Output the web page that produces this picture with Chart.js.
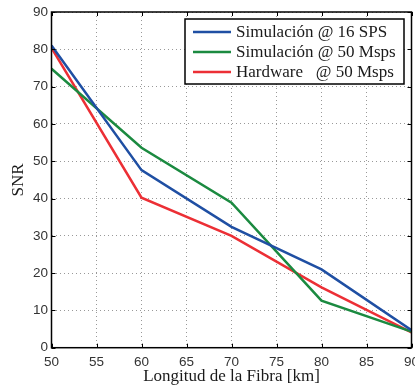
<!DOCTYPE html>
<html>
<head>
<meta charset="utf-8">
<script src="https://cdn.jsdelivr.net/npm/chart.js@4"></script>
<style>
html,body{margin:0;padding:0;background:#fff;}
#wrap{position:relative;width:415px;height:392px;}
</style>
</head>
<body>
<div id="wrap"><canvas id="c" width="415" height="392"></canvas></div>
<script>
const xValues = [50, 60, 70, 80, 90];
const sim16 = [81, 47.6, 32.4, 21, 4.7];
const sim50 = [74.8, 53.6, 38.9, 12.6, 4.3];
const hw50 = [80.4, 40.2, 30, 16.2, 4.1];
const seriesLabels = ['Simulación @ 16 SPS', 'Simulación @ 50 Msps', 'Hardware   @ 50 Msps'];
const seriesColors = ['#1f4fa3', '#1b8a40', '#ec2f35'];
const xTitle = 'Longitud de la Fibra [km]';
const yTitle = 'SNR';

const toPts = arr => arr.map((v, i) => ({x: xValues[i], y: v}));
const dataArrays = [sim16, sim50, hw50];

const frame = {
  id: 'frame',
  afterDatasetsDraw(chart) {
    const {ctx, chartArea: a, scales} = chart;
    ctx.save();
    ctx.strokeStyle = '#000';
    ctx.lineWidth = 1;
    ctx.beginPath();
    for (let v = 50; v <= 90; v += 5) {
      const x = Math.round(scales.x.getPixelForValue(v)) + 0.5;
      ctx.moveTo(x, a.top); ctx.lineTo(x, a.top + 4);
      ctx.moveTo(x, a.bottom); ctx.lineTo(x, a.bottom - 4);
    }
    for (let v = 0; v <= 90; v += 10) {
      const y = Math.round(scales.y.getPixelForValue(v)) + 0.5;
      ctx.moveTo(a.right, y); ctx.lineTo(a.right - 4, y);
      ctx.moveTo(a.left, y); ctx.lineTo(a.left + 4, y);
    }
    ctx.stroke();
    ctx.lineWidth = 1.5;
    ctx.strokeRect(a.left, a.top, a.right - a.left, a.bottom - a.top);
    // legend
    const bx = 185, by = 19, bw = 219, bh = 65;
    ctx.fillStyle = '#fff';
    ctx.fillRect(bx, by, bw, bh);
    ctx.lineWidth = 1.5;
    ctx.strokeStyle = '#000';
    ctx.strokeRect(bx, by, bw, bh);
    ctx.font = '17px "Liberation Serif", "Times New Roman", serif';
    ctx.textBaseline = 'middle';
    ctx.textAlign = 'left';
    for (let i = 0; i < 3; i++) {
      const y = by + 13 + i * 20;
      ctx.strokeStyle = seriesColors[i];
      ctx.lineWidth = 2.5;
      ctx.beginPath();
      ctx.moveTo(bx + 8, y); ctx.lineTo(bx + 46, y);
      ctx.stroke();
      ctx.fillStyle = '#1a1a1a';
      ctx.fillText(seriesLabels[i], bx + 51, y + 1);
    }
    ctx.restore();
  }
};

new Chart(document.getElementById('c'), {
  type: 'line',
  data: {
    datasets: dataArrays.map((arr, i) => ({
      label: seriesLabels[i],
      data: toPts(arr),
      borderColor: seriesColors[i],
      backgroundColor: seriesColors[i],
      borderWidth: 2.5,
      pointRadius: 0,
      tension: 0,
      fill: false
    }))
  },
  options: {
    responsive: false,
    animation: false,
    layout: {padding: {top: 12, right: 3.5, left: 0, bottom: 0}},
    plugins: {legend: {display: false}, tooltip: {enabled: false}},
    scales: {
      x: {
        type: 'linear', min: 50, max: 90,
        ticks: {stepSize: 5, color: '#333', padding: 6,
          font: {family: '"Liberation Sans", Arial, sans-serif', size: 13.5}},
        grid: {color: '#999', lineWidth: 1, drawTicks: false, tickLength: 0},
        border: {display: false, dash: [1, 3]},
        title: {display: true, text: xTitle, color: '#1a1a1a', padding: {top: 0, bottom: 4.8},
          font: {family: '"Liberation Serif", "Times New Roman", serif', size: 17}},
        afterFit: s => { s.height = 44.3; s.paddingLeft = 0; s.paddingRight = 0; }
      },
      y: {
        type: 'linear', min: 0, max: 90,
        ticks: {stepSize: 10, color: '#333', padding: 3.5,
          font: {family: '"Liberation Sans", Arial, sans-serif', size: 13.5}},
        grid: {color: '#999', lineWidth: 1, drawTicks: false, tickLength: 0},
        border: {display: false, dash: [1, 3]},
        title: {display: true, text: yTitle, color: '#1a1a1a', padding: {top: 8.8, bottom: 0},
          font: {family: '"Liberation Serif", "Times New Roman", serif', size: 17}},
        afterFit: s => { s.width = 51.5; s.paddingTop = 0; s.paddingBottom = 0; }
      }
    }
  },
  plugins: [frame]
});
</script>
</body>
</html>
